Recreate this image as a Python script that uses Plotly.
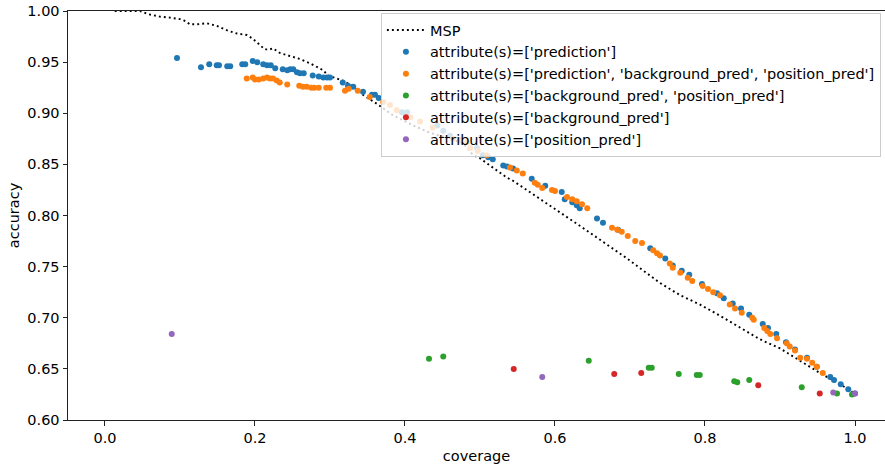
import plotly.graph_objects as go

# MSP baseline: accuracy vs coverage
msp_cov = [0.013, 0.047, 0.057, 0.073, 0.087, 0.100, 0.108, 0.113, 0.123, 0.136,
           0.149, 0.163, 0.176, 0.189, 0.197, 0.207, 0.213, 0.220, 0.224, 0.233,
           0.247, 0.260, 0.273, 0.291, 0.297, 0.317, 0.331, 0.344, 0.363, 0.384,
           0.411, 0.433, 0.456, 0.477, 0.491, 0.500, 0.513, 0.536, 0.544, 0.589,
           0.633, 0.696, 0.740, 0.767, 0.793, 0.820, 0.847, 0.873, 0.900, 0.927,
           0.953, 0.980, 1.000]
msp_acc = [1.000, 1.000, 0.997, 0.9945, 0.9935, 0.992, 0.990, 0.987, 0.987, 0.988,
           0.9855, 0.981, 0.978, 0.9765, 0.973, 0.967, 0.9625, 0.9625, 0.9635, 0.959,
           0.956, 0.953, 0.949, 0.942, 0.937, 0.932, 0.926, 0.918, 0.909, 0.898,
           0.888, 0.881, 0.876, 0.871, 0.859, 0.856, 0.849, 0.837, 0.834, 0.812,
           0.790, 0.758, 0.734, 0.722, 0.713, 0.702, 0.690, 0.679, 0.670, 0.658,
           0.646, 0.635, 0.626]

# attribute(s)=['prediction']
pred_cov = [0.096, 0.128, 0.139, 0.149, 0.152, 0.163, 0.167, 0.183, 0.187, 0.197,
            0.203, 0.211, 0.216, 0.221, 0.227, 0.237, 0.243, 0.247, 0.251, 0.256,
            0.260, 0.265, 0.277, 0.285, 0.291, 0.296, 0.300, 0.317, 0.324, 0.331,
            0.344, 0.356, 0.360, 0.365, 0.396, 0.403, 0.443, 0.451, 0.460, 0.496,
            0.504, 0.511, 0.517, 0.531, 0.536, 0.544, 0.569, 0.587, 0.609, 0.613,
            0.623, 0.629, 0.633, 0.656, 0.664, 0.684, 0.727, 0.747, 0.757, 0.769,
            0.779, 0.796, 0.816, 0.825, 0.837, 0.848, 0.859, 0.877, 0.884, 0.895,
            0.908, 0.920, 0.936, 0.949, 0.967, 0.972, 0.981, 0.991, 1.000]
pred_acc = [0.954, 0.945, 0.948, 0.947, 0.947, 0.946, 0.946, 0.948, 0.948, 0.951,
            0.950, 0.948, 0.947, 0.947, 0.944, 0.943, 0.942, 0.943, 0.943, 0.940,
            0.939, 0.939, 0.937, 0.936, 0.935, 0.935, 0.935, 0.930, 0.927, 0.926,
            0.921, 0.918, 0.918, 0.915, 0.901, 0.901, 0.888, 0.883, 0.878, 0.866,
            0.859, 0.857, 0.855, 0.849, 0.848, 0.846, 0.836, 0.829, 0.823, 0.816,
            0.813, 0.810, 0.807, 0.797, 0.793, 0.786, 0.768, 0.758, 0.751, 0.746,
            0.742, 0.733, 0.724, 0.719, 0.714, 0.709, 0.703, 0.694, 0.690, 0.684,
            0.676, 0.669, 0.661, 0.652, 0.642, 0.639, 0.635, 0.630, 0.626]

# attribute(s)=['prediction', 'background_pred', 'position_pred']
all_cov = [0.189, 0.197, 0.200, 0.205, 0.211, 0.216, 0.220, 0.224, 0.229, 0.233,
           0.243, 0.259, 0.264, 0.269, 0.275, 0.279, 0.285, 0.295, 0.300, 0.320,
           0.325, 0.337, 0.353, 0.371, 0.380, 0.389, 0.407, 0.420, 0.437, 0.464,
           0.473, 0.483, 0.487, 0.497, 0.509, 0.540, 0.549, 0.557, 0.573, 0.577,
           0.583, 0.596, 0.600, 0.616, 0.623, 0.629, 0.636, 0.643, 0.676, 0.683,
           0.689, 0.697, 0.707, 0.716, 0.731, 0.736, 0.740, 0.753, 0.757, 0.767,
           0.777, 0.783, 0.797, 0.804, 0.811, 0.820, 0.833, 0.840, 0.849, 0.863,
           0.865, 0.879, 0.883, 0.887, 0.896, 0.909, 0.913, 0.920, 0.927, 0.936,
           0.943, 0.949, 0.957]
all_acc = [0.934, 0.935, 0.933, 0.933, 0.934, 0.935, 0.934, 0.934, 0.932, 0.930,
           0.928, 0.927, 0.926, 0.926, 0.925, 0.925, 0.925, 0.925, 0.925, 0.922,
           0.924, 0.922, 0.916, 0.911, 0.908, 0.903, 0.896, 0.892, 0.886, 0.875,
           0.874, 0.872, 0.866, 0.863, 0.859, 0.847, 0.844, 0.841, 0.832, 0.830,
           0.827, 0.825, 0.824, 0.818, 0.816, 0.814, 0.811, 0.807, 0.788, 0.786,
           0.784, 0.780, 0.775, 0.773, 0.766, 0.763, 0.761, 0.753, 0.749, 0.744,
           0.739, 0.736, 0.731, 0.728, 0.725, 0.722, 0.713, 0.709, 0.705, 0.700,
           0.698, 0.690, 0.687, 0.684, 0.680, 0.675, 0.672, 0.668, 0.661, 0.660,
           0.656, 0.652, 0.646]

# attribute(s)=['background_pred', 'position_pred']
bgpos_cov = [0.432, 0.451, 0.645, 0.725, 0.729, 0.765, 0.789, 0.793, 0.839, 0.843,
             0.859, 0.929, 0.976, 0.996]
bgpos_acc = [0.660, 0.662, 0.658, 0.651, 0.651, 0.645, 0.644, 0.644, 0.638, 0.637,
             0.639, 0.632, 0.626, 0.625]

# attribute(s)=['background_pred']
bg_cov = [0.545, 0.679, 0.715, 0.871, 0.953]
bg_acc = [0.650, 0.645, 0.646, 0.634, 0.626]

# attribute(s)=['position_pred']
pos_cov = [0.089, 0.583, 0.971, 1.000]
pos_acc = [0.684, 0.642, 0.627, 0.626]

FONT = "DejaVu Sans"
FS = 14.5

fig = go.Figure()
fig.add_trace(go.Scatter(
    x=msp_cov, y=msp_acc, mode="lines", name="MSP", legendgroup="g0",
    line=dict(color="black", width=1.9, dash="1.9px,3.1px"),
))

series = [
    ("attribute(s)=['prediction']", pred_cov, pred_acc, "#1f77b4"),
    ("attribute(s)=['prediction', 'background_pred', 'position_pred']", all_cov, all_acc, "#ff7f0e"),
    ("attribute(s)=['background_pred', 'position_pred']", bgpos_cov, bgpos_acc, "#2ca02c"),
    ("attribute(s)=['background_pred']", bg_cov, bg_acc, "#d62728"),
    ("attribute(s)=['position_pred']", pos_cov, pos_acc, "#9467bd"),
]
for i, (name, xs, ys, color) in enumerate(series):
    fig.add_trace(go.Scatter(
        x=xs, y=ys, mode="markers", name=name, legendgroup=f"g{i + 1}",
        marker=dict(color=color, size=6, line=dict(width=0)),
    ))

axis_common = dict(
    showline=True, linecolor="#222222", linewidth=1,
    ticks="outside", ticklen=4.5, tickwidth=1, tickcolor="#222222",
    showgrid=False, zeroline=False, automargin=False,
    tickfont=dict(family=FONT, size=FS, color="black"),
)

fig.update_layout(
    width=885, height=466,
    margin=dict(l=68, r=0, t=11, b=46, autoexpand=False),
    plot_bgcolor="white", paper_bgcolor="white",
    font=dict(family=FONT, size=FS, color="black"),
    xaxis=dict(
        range=[-0.0493, 1.04], tickvals=[0.0, 0.2, 0.4, 0.6, 0.8, 1.0],
        tickformat=".1f", mirror=True,
        title=dict(text="coverage", font=dict(family=FONT, size=FS), standoff=5),
        **axis_common,
    ),
    yaxis=dict(
        range=[0.60, 1.00], tickvals=[0.60, 0.65, 0.70, 0.75, 0.80, 0.85, 0.90, 0.95, 1.00],
        tickformat=".2f",
        title=dict(text="accuracy", font=dict(family=FONT, size=FS), standoff=4),
        **axis_common,
    ),
    legend=dict(
        x=0.383, y=0.995, xanchor="left", yanchor="top",
        bgcolor="rgba(255,255,255,0.8)", bordercolor="#cccccc", borderwidth=1,
        font=dict(family=FONT, size=FS, color="black"),
        tracegroupgap=0, itemwidth=38,
    ),
    showlegend=True,
)

fig.write_html("out.html")
